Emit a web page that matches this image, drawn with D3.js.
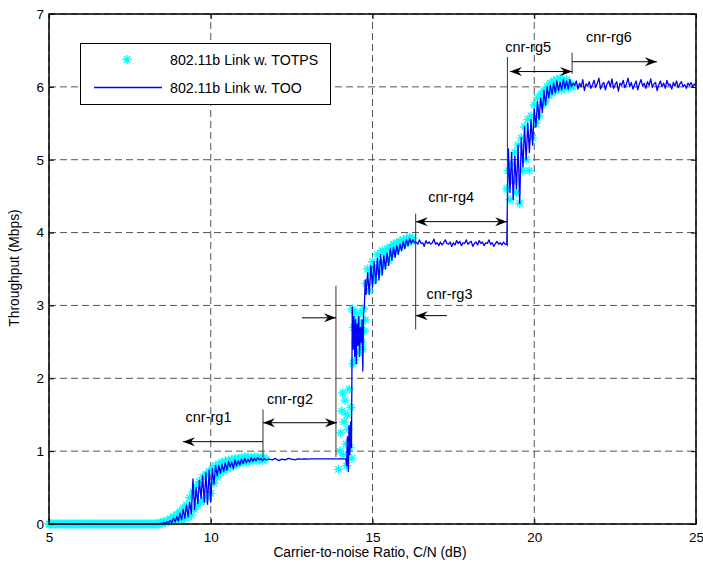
<!DOCTYPE html>
<html>
<head>
<meta charset="utf-8">
<script src="https://cdn.jsdelivr.net/npm/d3@7"></script>
<style>
  html, body { margin: 0; padding: 0; background: #fff; }
  svg { display: block; font-family: "Liberation Sans", Arial, Helvetica, sans-serif; }
</style>
</head>
<body>
<svg id="chart" width="703" height="564"></svg>
<script>
// ---------------- DATA ----------------
const xTicks = [5, 10, 15, 20, 25];
const yTicks = [0, 1, 2, 3, 4, 5, 6, 7];
const xLabel = "Carrier-to-noise Ratio, C/N (dB)";
const yLabel = "Throughput (Mbps)";
const seriesNames = ["802.11b Link w. TOTPS", "802.11b Link w. TOO"];

// TOO (blue line) — segments [x start, x end, values evenly spaced]
const tooFlat0 = [0, 0];                                     // 5.00 – 8.35
const tooRise1 = [0.00,0.01,0.00,0.02,0.01,0.03,0.02,0.05,0.02,0.08,
                  0.03,0.10,0.04,0.15,0.06,0.20,0.08,0.26,0.10,0.30,
                  0.14,0.62,0.20,0.50,0.28,0.60,0.35,0.66,0.30,0.70,
                  0.27,0.74,0.30,0.76,0.55,0.80,0.66,0.80,0.70,0.82,
                  0.72,0.84,0.74,0.86,0.78,0.85,0.76,0.88,0.80,0.87,
                  0.81,0.89,0.83,0.90,0.84,0.89,0.85,0.91,0.86,0.90,
                  0.87,0.91,0.88,0.90,0.87,0.90,0.88];          // 8.40 – 11.70
const tooFlat2 = [0.89,0.88,0.90,0.87,0.89,0.88,0.90,0.89,0.88,0.895,
                  0.89,0.895,0.89,0.895,0.895,0.895,0.895,0.895,0.895,0.895,
                  0.895,0.895,0.895,0.895];                    // 11.80 – 14.10
const tooJump3 = [0.895,0.89,0.80,1.20,0.72,1.35,0.95,1.40,1.05,2.98,
                  2.40,2.85,2.30,2.80,2.20,2.75,2.45,2.85,2.30,2.70,
                  2.50,2.80,2.10,2.90,3.00,3.35,3.15];          // 14.15 – 14.80
const tooRise4 = [3.45,3.15,3.55,3.25,3.60,3.30,3.65,3.35,3.70,3.42,
                  3.68,3.50,3.72,3.55,3.78,3.62,3.80,3.66,3.82,3.70,
                  3.84,3.75,3.88,3.78,3.90,3.82,3.92,3.85,3.90,3.86]; // 14.85 – 16.30
const tooFlat4 = [3.87,3.84,3.90,3.85,3.86,3.81,3.89,3.85,3.87,3.84,
                  3.86,3.91,3.84,3.86,3.82,3.87,3.83,3.86,3.90,3.85,
                  3.84,3.87,3.81,3.86,3.83,3.89,3.85,3.88,3.82,3.86,
                  3.85,3.90,3.84,3.86,3.88,3.81,3.85,3.87,3.83,3.89,
                  3.85,3.87,3.82,3.86,3.85,3.90,3.84,3.86,3.81,3.85,
                  3.88,3.84,3.86,3.83,3.87,3.84,3.84];          // 16.35 – 19.15
const tooRise5 = [5.15,4.55,5.10,4.45,5.05,4.60,5.20,4.40,5.30,4.90,
                  5.45,5.00,5.50,5.10,5.55,5.20,5.70,5.45,5.80,5.55,
                  5.85,5.65,5.95,5.75,6.00,5.85,6.02,5.90,6.05,5.92,
                  6.08,5.95,6.06,5.96,6.10,5.98,6.08,5.97,6.10,6.00,
                  6.05];                                        // 19.20 – 21.20
const tooFlat6 = [6.02,6.08,5.97,6.05,6.00,6.10,5.95,6.04,6.01,6.07,
                  5.98,6.03,6.09,5.99,6.05,6.12,5.97,6.03,6.06,5.96,
                  6.04,6.08,6.00,6.11,5.98,6.03,6.07,5.94,6.05,6.02,
                  6.09,5.99,6.04,6.12,6.00,6.06,5.97,6.03,6.08,5.96,
                  6.04,6.10,6.01,6.05,5.98,6.07,6.02,6.11,5.99,6.04,
                  6.06,5.95,6.03,6.08,6.00,6.05,5.98,6.09,6.02,6.04,
                  5.97,6.06,6.01,6.08,5.99,6.04,6.07,6.00,6.03,5.98,
                  6.05,6.02,6.06,6.00,6.04,6.02];               // 21.25 – 25.00
const tooSegments = [
  [5.00, 8.35, tooFlat0], [8.40, 11.70, tooRise1], [11.80, 14.10, tooFlat2],
  [14.15, 14.80, tooJump3], [14.85, 16.30, tooRise4], [16.35, 19.15, tooFlat4],
  [19.20, 21.20, tooRise5], [21.25, 25.00, tooFlat6]
];

// TOTPS (cyan stars)
const totpsZero = [0,0,0,0,0,0,0,0,0,0,0,0,0,0,0,0,0,0,0,0,
                   0,0,0,0,0,0,0,0,0,0,0,0,0,0,0,0,0,0,0,0,
                   0,0,0,0,0,0,0,0,0,0,0,0,0,0,0,0,0,0,0,0,
                   0,0,0,0,0,0,0,0];                            // 5.00 – 8.35
const totpsRise1 = [0.00,0.02,0.01,0.03,0.02,0.05,0.03,0.07,0.04,0.10,
                    0.05,0.13,0.07,0.17,0.05,0.22,0.08,0.26,0.10,0.36,
                    0.12,0.44,0.20,0.52,0.26,0.58,0.30,0.64,0.34,0.68,
                    0.36,0.72,0.42,0.76,0.56,0.80,0.64,0.82,0.70,0.85,
                    0.73,0.86,0.76,0.88,0.78,0.88,0.80,0.90,0.82,0.90,
                    0.83,0.91,0.85,0.92,0.85,0.92,0.86,0.91,0.87,0.92,
                    0.87,0.91,0.88,0.92,0.87,0.91,0.89];        // 8.40 – 11.70
const totpsJumpX = [13.95,14.00,14.02,14.05,14.08,14.10,14.12,14.15,14.18,14.20,14.22,14.25,14.28,14.30,14.33,14.36,
                    14.38,14.42,14.45,14.48,14.52,14.55,14.58,14.62,14.65,14.68,14.72,14.75,14.78,14.45,14.40,14.70];
const totpsJumpY = [0.75,1.00,1.25,1.55,1.80,0.95,1.40,1.70,1.10,0.80,1.50,1.30,1.85,1.05,1.60,0.90,
                    2.95,2.70,2.90,2.50,2.80,2.60,2.35,2.90,2.75,2.50,2.95,2.65,2.80,2.25,2.20,2.40];
const totpsRise4 = [3.30,3.50,3.20,3.45,3.60,3.35,3.50,3.70,3.45,3.60,
                    3.75,3.55,3.70,3.78,3.62,3.80,3.70,3.84,3.75,3.86,
                    3.80,3.88,3.82,3.90,3.85,3.92,3.86,3.94,3.88,3.92]; // 14.80 – 16.25
const totpsRise5 = [4.60,4.85,4.45,4.95,4.70,5.10,4.55,5.20,4.40,5.30,
                    4.85,5.45,5.00,5.55,4.85,5.60,5.30,5.75,5.50,5.85,
                    5.60,5.90,5.75,5.95,5.80,6.00,5.88,6.05,5.92,6.08,
                    5.95,6.10,5.97,6.12,5.96,6.08,6.00,6.10,5.98,6.05,
                    6.02,6.00];                                 // 19.15 – 21.20
const totpsSegments = [
  [5.00, 8.35, totpsZero], [8.40, 11.70, totpsRise1],
  [14.80, 16.25, totpsRise4], [19.15, 21.20, totpsRise5]
];

// Annotations (data coordinates)
const annoLabels = [
  {t: "cnr-rg1", x: 9.93, y: 1.47}, {t: "cnr-rg2", x: 12.45, y: 1.71},
  {t: "cnr-rg3", x: 17.38, y: 3.16}, {t: "cnr-rg4", x: 17.43, y: 4.49},
  {t: "cnr-rg5", x: 19.81, y: 6.55}, {t: "cnr-rg6", x: 22.31, y: 6.69}
];
const annoVLines = [
  {x: 11.615, y0: 0.91, y1: 1.57}, {x: 13.87, y0: 0.92, y1: 3.27},
  {x: 16.335, y0: 2.67, y1: 4.26}, {x: 19.17, y0: 3.81, y1: 6.41},
  {x: 21.17, y0: 6.18, y1: 6.47}
];
const annoArrows = [
  {x0: 11.615, x1: 9.14, y: 1.13, heads: "end"},
  {x0: 11.615, x1: 13.90, y: 1.39, heads: "both"},
  {x0: 12.82, x1: 13.87, y: 2.83, heads: "end"},
  {x0: 17.30, x1: 16.335, y: 2.86, heads: "end"},
  {x0: 16.335, x1: 19.16, y: 4.15, heads: "both"},
  {x0: 19.25, x1: 21.17, y: 6.21, heads: "both"},
  {x0: 21.17, x1: 23.79, y: 6.345, heads: "end"}
];

// ---------------- DRAW ----------------
(function () {
function expand(segs) {
  const pts = [];
  segs.forEach(([a, b, vals]) => {
    const n = vals.length;
    vals.forEach((v, i) => pts.push([n > 1 ? a + (b - a) * i / (n - 1) : a, v]));
  });
  return pts;
}
const tooPts = expand(tooSegments);
const totpsPts = expand(totpsSegments);
totpsJumpX.forEach((xv, i) => totpsPts.push([xv, totpsJumpY[i]]));

const svg = d3.select("#chart");
const L = 49, R = 696, T = 14, B = 524;
const x = d3.scaleLinear().domain([5, 25]).range([L, R]);
const y = d3.scaleLinear().domain([0, 7]).range([B, T]);

// grid
const grid = svg.append("g").attr("stroke", "#555").attr("stroke-width", 1).attr("stroke-dasharray", "7,4");
grid.selectAll("line.gx").data(xTicks).join("line").attr("class", "gx")
  .attr("x1", d => x(d)).attr("x2", d => x(d)).attr("y1", B).attr("y2", T);
grid.selectAll("line.gy").data(yTicks).join("line").attr("class", "gy")
  .attr("y1", d => y(d)).attr("y2", d => y(d)).attr("x1", L).attr("x2", R);

// stars
const starPath = "M-4.5,0H4.5M0,-4.5V4.5M-3.2,-3.2L3.2,3.2M-3.2,3.2L3.2,-3.2";
const plot = svg.append("g");
plot.append("g").selectAll("path").data(totpsPts).join("path")
  .attr("d", starPath)
  .attr("transform", d => `translate(${x(d[0])},${y(d[1])})`)
  .attr("stroke", "#00ffff").attr("stroke-width", 1.4).attr("fill", "none");

// line
plot.append("path").datum(tooPts)
  .attr("d", d3.line().x(d => x(d[0])).y(d => y(d[1])))
  .attr("fill", "none").attr("stroke", "#0000ff").attr("stroke-width", 1.3)
  .attr("stroke-linejoin", "round");

// annotations
const ann = svg.append("g");
ann.selectAll("line.v").data(annoVLines).join("line").attr("class", "v")
  .attr("x1", d => x(d.x)).attr("x2", d => x(d.x))
  .attr("y1", d => y(d.y0)).attr("y2", d => y(d.y1))
  .attr("stroke", "#333").attr("stroke-width", 1);

function head(px, py, dir) {
  const Lh = 12, W = 4.5, N = 8;
  return `M${px},${py}L${px - dir * Lh},${py - W}L${px - dir * N},${py}L${px - dir * Lh},${py + W}Z`;
}
annoArrows.forEach(a => {
  const X0 = x(a.x0), X1 = x(a.x1), Y = y(a.y);
  ann.append("line").attr("x1", X0).attr("x2", X1).attr("y1", Y).attr("y2", Y)
    .attr("stroke", "#000").attr("stroke-width", 1);
  const d1 = X1 > X0 ? 1 : -1;
  ann.append("path").attr("d", head(X1, Y, d1)).attr("fill", "#000");
  if (a.heads === "both") ann.append("path").attr("d", head(X0, Y, -d1)).attr("fill", "#000");
});
ann.selectAll("text").data(annoLabels).join("text")
  .attr("x", d => x(d.x)).attr("y", d => y(d.y))
  .attr("text-anchor", "middle").attr("dominant-baseline", "central")
  .attr("font-size", 14.5).attr("fill", "#000").text(d => d.t);

// axes
const fmt = d3.format("d");
const ax = svg.append("g");
const gBottom = ax.append("g").attr("transform", `translate(0,${B})`)
  .call(d3.axisBottom(x).tickValues(xTicks).tickFormat(fmt).tickSizeInner(-5).tickSizeOuter(0).tickPadding(8));
const gLeft = ax.append("g").attr("transform", `translate(${L},0)`)
  .call(d3.axisLeft(y).tickValues(yTicks).tickFormat(fmt).tickSizeInner(-5).tickSizeOuter(0).tickPadding(5));
const gTop = ax.append("g").attr("transform", `translate(0,${T})`)
  .call(d3.axisTop(x).tickValues(xTicks).tickSizeInner(-5).tickSizeOuter(0).tickFormat(""));
const gRight = ax.append("g").attr("transform", `translate(${R},0)`)
  .call(d3.axisRight(y).tickValues(yTicks).tickSizeInner(-5).tickSizeOuter(0).tickFormat(""));
[gBottom, gLeft, gTop, gRight].forEach(g => {
  g.select(".domain").remove();
  g.selectAll("line").attr("stroke", "#000");
  g.selectAll("text").attr("fill", "#000").attr("font-size", 13.5)
    .attr("font-family", "Liberation Sans, Arial, sans-serif");
});
svg.append("rect").attr("x", L).attr("y", T).attr("width", R - L).attr("height", B - T)
  .attr("fill", "none").attr("stroke", "#000").attr("stroke-width", 1.5);

svg.append("text").attr("x", 370).attr("y", 557).attr("text-anchor", "middle")
  .attr("font-size", 13.8).text(xLabel);
svg.append("text").attr("transform", `translate(14,268) rotate(-90)`)
  .attr("text-anchor", "middle").attr("dominant-baseline", "central")
  .attr("font-size", 13.8).text(yLabel);

// legend
const lg = svg.append("g");
lg.append("rect").attr("x", 80.5).attr("y", 43.5).attr("width", 250).attr("height", 61)
  .attr("fill", "#fff").attr("stroke", "#000").attr("stroke-width", 1);
lg.append("path").attr("d", starPath).attr("transform", "translate(127,59.5)")
  .attr("stroke", "#00ffff").attr("stroke-width", 1.4).attr("fill", "none");
lg.append("line").attr("x1", 94).attr("x2", 162).attr("y1", 87.5).attr("y2", 87.5)
  .attr("stroke", "#0000ff").attr("stroke-width", 1.3);
lg.selectAll("text").data(seriesNames).join("text")
  .attr("x", 170).attr("y", (d, i) => i === 0 ? 60 : 88)
  .attr("dominant-baseline", "central").attr("font-size", 14.2).text(d => d);
})();
</script>
</body>
</html>
